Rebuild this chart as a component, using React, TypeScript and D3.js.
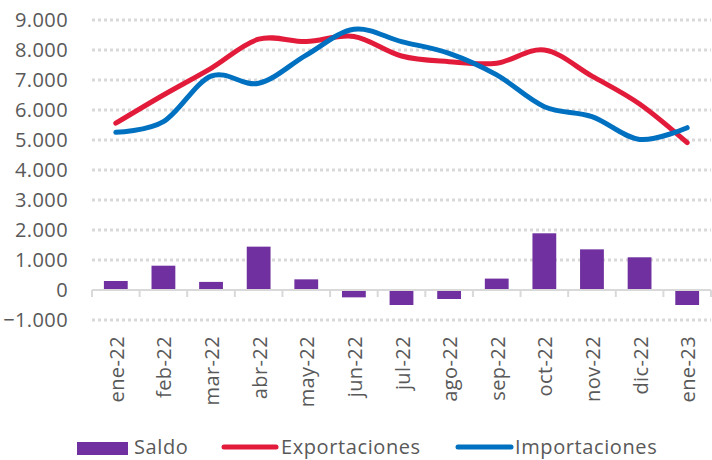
import { useRef, useEffect } from 'react';
import * as d3 from 'd3';

const months = ['ene-22', 'feb-22', 'mar-22', 'abr-22', 'may-22', 'jun-22', 'jul-22', 'ago-22', 'sep-22', 'oct-22', 'nov-22', 'dic-22', 'ene-23'];
const saldo = [300, 810, 270, 1445, 355, -245, -500, -300, 380, 1890, 1355, 1090, -500];
const exportaciones = [5560, 6500, 7390, 8360, 8280, 8450, 7800, 7610, 7560, 8000, 7130, 6200, 4910];
const importaciones = [5255, 5610, 7130, 6890, 7830, 8690, 8280, 7890, 7170, 6110, 5780, 5020, 5410];
const yTicks = [-1000, 0, 1000, 2000, 3000, 4000, 5000, 6000, 7000, 8000, 9000];

const PURPLE = '#7030a0';
const RED = '#e31b3b';
const BLUE = '#0070c0';
const TXT = '#595959';
const FONT = '"Open Sans", sans-serif';

export default function App() {
  const ref = useRef<SVGSVGElement>(null);

  useEffect(() => {
    const svg = d3.select(ref.current);
    svg.selectAll('*').remove();

    const left = 92, right = 711, top = 20, bottom = 320;
    const x = d3.scaleBand().domain(months).range([left, right]).paddingInner(0.5).paddingOuter(0.25);
    const xb = d3.scaleBand().domain(months).range([left, right]);
    const y = d3.scaleLinear().domain([-1000, 9000]).range([bottom, top]);
    const fmt = (v: number) => d3.format(',')(v).replace(/,/g, '.');

    // dotted gridlines
    svg.append('g')
      .selectAll('line')
      .data(yTicks.filter((t) => t !== 0))
      .enter()
      .append('line')
      .attr('x1', left)
      .attr('x2', right)
      .attr('y1', (d) => y(d))
      .attr('y2', (d) => y(d))
      .attr('stroke', '#d9d9d9')
      .attr('stroke-width', 3)
      .attr('stroke-dasharray', '3,3');

    // y labels
    svg.append('g')
      .selectAll('text')
      .data(yTicks)
      .enter()
      .append('text')
      .attr('x', 68)
      .attr('y', (d) => y(d))
      .attr('dy', '0.36em')
      .attr('text-anchor', 'end')
      .attr('fill', TXT)
      .style('font-family', FONT)
      .style('font-size', '20px')
      .style('letter-spacing', '0.4px')
      .text((d) => fmt(d));

    // bars
    svg.append('g')
      .selectAll('rect')
      .data(saldo)
      .enter()
      .append('rect')
      .attr('x', (_, i) => x(months[i])!)
      .attr('width', x.bandwidth())
      .attr('y', (d) => y(Math.max(0, d)))
      .attr('height', (d) => Math.abs(y(d) - y(0)))
      .attr('fill', PURPLE);

    // zero axis with ticks
    const ax = svg.append('g').attr('stroke', '#d9d9d9').attr('stroke-width', 2);
    ax.append('line').attr('x1', left).attr('x2', right).attr('y1', y(0)).attr('y2', y(0));
    ax.selectAll('line.tk')
      .data([...months.map((m) => xb(m)!), right])
      .enter()
      .append('line')
      .attr('class', 'tk')
      .attr('x1', (d) => d)
      .attr('x2', (d) => d)
      .attr('y1', y(0))
      .attr('y2', y(0) + 7);

    // lines
    const cx = (i: number) => xb(months[i])! + xb.bandwidth() / 2;
    const line = d3
      .line<number>()
      .x((_, i) => cx(i))
      .y((d) => y(d))
      .curve(d3.curveCatmullRom.alpha(0));
    [
      [exportaciones, RED],
      [importaciones, BLUE],
    ].forEach(([data, color]) => {
      svg.append('path')
        .attr('d', line(data as number[]))
        .attr('fill', 'none')
        .attr('stroke', color as string)
        .attr('stroke-width', 5)
        .attr('stroke-linecap', 'round');
    });

    // x labels
    svg.append('g')
      .selectAll('text')
      .data(months)
      .enter()
      .append('text')
      .attr('transform', (d, i) => `translate(${cx(i) + 8},336) rotate(-90)`)
      .attr('text-anchor', 'end')
      .attr('fill', TXT)
      .style('font-family', FONT)
      .style('font-size', '20px')
      .style('letter-spacing', '0.4px')
      .text((d) => d);

    // legend
    const lg = svg.append('g')
      .style('font-family', FONT)
      .style('font-size', '20px')
      .style('letter-spacing', '0.6px')
      .attr('fill', TXT);
    lg.append('rect').attr('x', 77).attr('y', 442).attr('width', 51).attr('height', 13).attr('fill', PURPLE);
    lg.append('text').attr('x', 134).attr('y', 454).text('Saldo');
    lg.append('line').attr('x1', 224).attr('x2', 276).attr('y1', 447).attr('y2', 447).attr('stroke', RED).attr('stroke-width', 5).attr('stroke-linecap', 'round');
    lg.append('text').attr('x', 281).attr('y', 454).text('Exportaciones');
    lg.append('line').attr('x1', 458).attr('x2', 511).attr('y1', 447).attr('y2', 447).attr('stroke', BLUE).attr('stroke-width', 5).attr('stroke-linecap', 'round');
    lg.append('text').attr('x', 515).attr('y', 454).text('Importaciones');
  }, []);

  return (
    <svg
      ref={ref}
      width={712}
      height={460}
      style={{ position: 'absolute', left: 0, top: 0, background: '#fff' }}
    />
  );
}
